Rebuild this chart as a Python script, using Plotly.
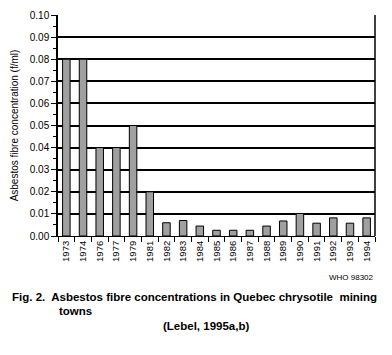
import plotly.graph_objects as go

years = ["1973", "1974", "1976", "1977", "1979", "1981", "1982", "1983", "1984", "1985",
         "1986", "1987", "1988", "1989", "1990", "1991", "1992", "1993", "1994"]
values = [0.08, 0.08, 0.04, 0.04, 0.05, 0.02, 0.006, 0.007, 0.0045, 0.0026,
          0.0026, 0.0026, 0.0045, 0.0068, 0.0102, 0.0058, 0.0082, 0.0058, 0.0082]
y_ticks = [0.00, 0.01, 0.02, 0.03, 0.04, 0.05, 0.06, 0.07, 0.08, 0.09, 0.10]
y_tick_labels = ["%.2f" % v for v in y_ticks]

fig = go.Figure()
fig.add_trace(go.Bar(
    x=years, y=values,
    marker=dict(color="white", line=dict(color="black", width=1),
                pattern=dict(shape=".", size=2, fgcolor="black", bgcolor="white", solidity=0.75)),
    width=0.45,
))

fig.update_layout(
    width=392, height=355,
    margin=dict(l=58, r=17, t=15, b=119, autoexpand=False),
    paper_bgcolor="white", plot_bgcolor="white",
    showlegend=False,
    font=dict(family="Liberation Sans, Arial, sans-serif", size=10, color="black"),
    xaxis=dict(
        type="category", tickangle=-90, tickfont=dict(size=9.5),
        ticks="outside", tickson="boundaries", ticklen=5, tickcolor="black",
        showline=True, linecolor="black", linewidth=1, mirror=False,
        showgrid=False, zeroline=False, automargin=False,
    ),
    yaxis=dict(
        range=[0, 0.1], tickvals=y_ticks, ticktext=y_tick_labels,
        ticks="outside", ticklen=5, tickcolor="black", automargin=False,
        minor=dict(tickvals=[v + 0.005 for v in y_ticks[:-1]], ticks="outside", ticklen=3, tickcolor="black", showgrid=False),
        showline=True, linecolor="black", linewidth=1.5,
        showgrid=True, gridcolor="black", gridwidth=1.5, zeroline=False,
        title=dict(text="Asbestos fibre concentration (f/ml)", font=dict(size=10), standoff=9),
    ),
    shapes=[
        dict(type="line", xref="paper", yref="paper", x0=1, x1=1, y0=0, y1=1,
             line=dict(color="black", width=1.5)),
    ],
)

plot_l, plot_r, plot_t, plot_b = 58, 375, 15, 236
def px_to_paper(px, py):
    return (px - plot_l) / (plot_r - plot_l), (plot_b - py) / (plot_b - plot_t)

notes = [
    ("WHO 98302", 376, 277, "right", 8),
    ("<b>Fig. 2.  Asbestos fibre concentrations in Quebec chrysotile  mining</b>", 10, 297, "left", 11.5),
    ("<b>towns</b>", 57, 311, "left", 11.5),
    ("<b>(Lebel, 1995a,b)</b>", 206, 326, "center", 11.5),
]
for text, px, py, anchor, size in notes:
    ax, ay = px_to_paper(px, py)
    fig.add_annotation(text=text, xref="paper", yref="paper", x=ax, y=ay, xanchor=anchor,
                       yanchor="middle", showarrow=False, font=dict(size=size))

fig.write_html("out.html", config={"displayModeBar": False},
               post_script="document.body.style.margin='0';")
